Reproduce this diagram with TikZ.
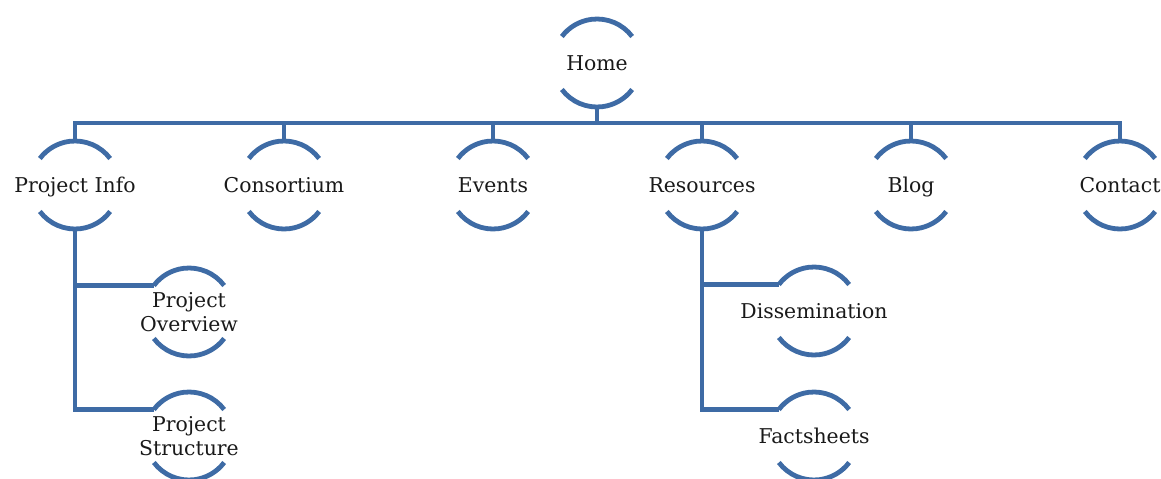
\documentclass[tikz,border=0pt]{standalone}
\usepackage{fontspec}
\setmainfont{DejaVu Serif}
\usetikzlibrary{positioning, calc}
\definecolor{linkblue}{RGB}{62,107,165}

\begin{document}
\begin{tikzpicture}[
    sitetext/.style={font=\fontsize{14.5}{16.5}\selectfont, align=center, text=black!90, text depth=0pt},
    site/.style={circle, minimum size=2.2cm, inner sep=0pt, outer sep=0pt, label={[sitetext]center:#1}},
    link/.style={draw=linkblue, line width=0.12cm}
]
\useasboundingbox (0,0) rectangle (29.025,-11.975);

\node[site=Home] (home) at (14.925,-1.575) {};
\node[site={Project Info}] (pinfo) at (1.875,-4.625) {};
\node[site=Consortium, right=3.025cm of pinfo] (consortium) {};
\node[site=Events, right=3.025cm of consortium] (events) {};
\node[site=Resources, right=3.025cm of events] (resources) {};
\node[site=Blog, right=3.025cm of resources] (blog) {};
\node[site=Contact, right=3.025cm of blog] (contact) {};
\node[site={Project\\Overview}] (overview) at ($(pinfo)+(2.85,-3.175)$) {};
\node[site={Project\\Structure}] (structure) at ($(overview)+(0,-3.1)$) {};
\node[site=Dissemination] (dissemination) at ($(resources)+(2.8,-3.15)$) {};
\node[site=Factsheets] (factsheets) at ($(dissemination)+(0,-3.125)$) {};

% top and bottom arcs of every page
\foreach \n in {home,pinfo,consortium,events,resources,blog,contact,overview,structure,dissemination,factsheets} {
  \draw[link] (\n.37) arc[start angle=37, end angle=143, radius=1.1cm];
  \draw[link] (\n.217) arc[start angle=217, end angle=323, radius=1.1cm];
}

\draw[link] (home.south) -- ++(0,-0.4) coordinate (bar);
\foreach \n in {pinfo,consortium,events,resources,blog,contact}
  \draw[link] (bar) -| (\n.north);

\draw[link] (pinfo.south) |- (overview.143);
\draw[link] (pinfo.south) |- (structure.143);
\draw[link] (resources.south) |- (dissemination.143);
\draw[link] (resources.south) |- (factsheets.143);
\end{tikzpicture}
\end{document}
